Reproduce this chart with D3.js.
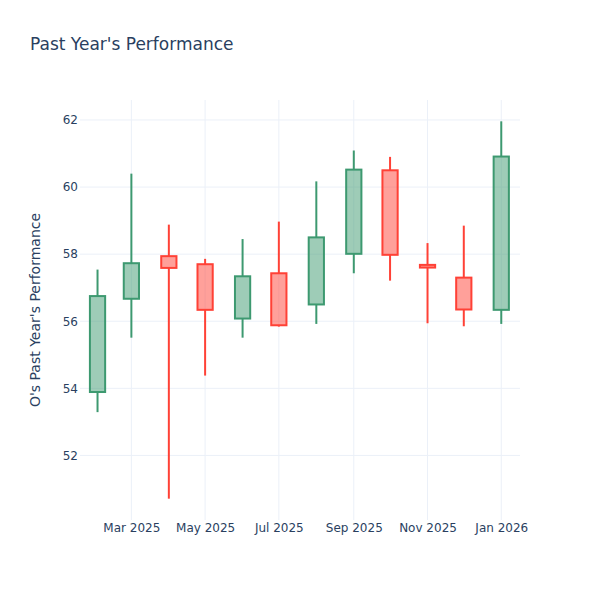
<!DOCTYPE html>
<html>
<head>
<meta charset="utf-8">
<script src="https://cdn.jsdelivr.net/npm/d3@7"></script>
<style>
  body { margin: 0; background: #fff; }
  svg text { font-family: "DejaVu Sans", sans-serif; fill: #2a3f5f; }
</style>
</head>
<body>
<svg id="chart" width="600" height="600"></svg>
<script>
// monthly candles
var dates = ["2025-02-01","2025-03-01","2025-04-01","2025-05-01","2025-06-01","2025-07-01",
             "2025-08-01","2025-09-01","2025-10-01","2025-11-01","2025-12-01","2026-01-01"];
var opens  = [53.89, 56.67, 57.94, 57.70, 56.08, 57.43, 56.50, 58.01, 60.50, 57.68, 57.30, 56.34];
var highs  = [57.54, 60.40, 58.88, 57.86, 58.45, 58.97, 60.17, 61.09, 60.90, 58.33, 58.85, 61.96];
var lows   = [53.29, 55.51, 50.71, 54.38, 55.51, 55.84, 55.92, 57.43, 57.21, 55.94, 55.85, 55.92];
var closes = [56.75, 57.73, 57.59, 56.34, 57.34, 55.88, 58.50, 60.52, 57.98, 57.60, 56.35, 60.91];
var yTicks = [52, 54, 56, 58, 60, 62];
var xTickDates = ["2025-03-01","2025-05-01","2025-07-01","2025-09-01","2025-11-01","2026-01-01"];

var parse = d3.utcParse("%Y-%m-%d");
var data = dates.map(function(d, i){
  return {date: parse(d), open: opens[i], high: highs[i], low: lows[i], close: closes[i]};
});

var svg = d3.select("#chart");
var margin = {left: 80, right: 80, top: 100, bottom: 80};
var W = 600, H = 600;

// x range padded by half a period each side, like plotly does
var day = 864e5;
var x = d3.scaleUtc()
  .domain([new Date(data[0].date.getTime() - 14.5*day), new Date(data[data.length-1].date.getTime() + 15.5*day)])
  .range([margin.left, W - margin.right]);

var lo = d3.min(lows), hi = d3.max(highs), pad = (hi - lo) * 0.0565;
var y = d3.scaleLinear()
  .domain([lo - pad, hi + pad])
  .range([H - margin.bottom, margin.top]);

// grid
svg.append("g").selectAll("line").data(yTicks).enter().append("line")
  .attr("x1", margin.left).attr("x2", W - margin.right)
  .attr("y1", function(d){ return y(d); }).attr("y2", function(d){ return y(d); })
  .attr("stroke", "#EBF0F8").attr("stroke-width", 1);
svg.append("g").selectAll("line").data(xTickDates.map(parse)).enter().append("line")
  .attr("y1", margin.top).attr("y2", H - margin.bottom)
  .attr("x1", function(d){ return x(d); }).attr("x2", function(d){ return x(d); })
  .attr("stroke", "#EBF0F8").attr("stroke-width", 1);

// axes
var yAxis = d3.axisLeft(y).tickValues(yTicks).tickSize(0).tickPadding(0);
svg.append("g").attr("transform", "translate(" + (margin.left - 2) + ",0)").call(yAxis)
  .call(function(g){ g.select(".domain").remove(); })
  .selectAll("text").attr("font-size", 12).attr("font-family", "DejaVu Sans, sans-serif").attr("fill", "#2a3f5f");

var xAxis = d3.axisBottom(x).tickValues(xTickDates.map(parse)).tickSize(0).tickPadding(0)
  .tickFormat(d3.utcFormat("%b %Y"));
svg.append("g").attr("transform", "translate(0," + (H - margin.bottom + 3) + ")").call(xAxis)
  .call(function(g){ g.select(".domain").remove(); })
  .selectAll("text").attr("font-size", 12).attr("font-family", "DejaVu Sans, sans-serif").attr("fill", "#2a3f5f");

// candles
var minGap = d3.min(data.slice(1), function(d, i){ return x(d.date) - x(data[i].date); });
var bw = minGap * 0.45;

var candle = svg.append("g").selectAll("g").data(data).enter().append("g");
candle.append("line")
  .attr("x1", function(d){ return x(d.date); }).attr("x2", function(d){ return x(d.date); })
  .attr("y1", function(d){ return y(d.high); }).attr("y2", function(d){ return y(Math.max(d.open, d.close)); })
  .attr("stroke", function(d){ return d.close >= d.open ? "#3D9970" : "#FF4136"; })
  .attr("stroke-width", 2);
candle.append("line")
  .attr("x1", function(d){ return x(d.date); }).attr("x2", function(d){ return x(d.date); })
  .attr("y1", function(d){ return y(Math.min(d.open, d.close)); }).attr("y2", function(d){ return y(d.low); })
  .attr("stroke", function(d){ return d.close >= d.open ? "#3D9970" : "#FF4136"; })
  .attr("stroke-width", 2);
candle.append("rect")
  .attr("x", function(d){ return x(d.date) - bw/2; })
  .attr("width", bw)
  .attr("y", function(d){ return y(Math.max(d.open, d.close)); })
  .attr("height", function(d){ return Math.abs(y(d.open) - y(d.close)); })
  .attr("fill", function(d){ return d.close >= d.open ? "rgba(61,153,112,0.5)" : "rgba(255,65,54,0.5)"; })
  .attr("stroke", function(d){ return d.close >= d.open ? "#3D9970" : "#FF4136"; })
  .attr("stroke-width", 2);

// titles
svg.append("text").attr("x", 30).attr("y", 50).attr("font-size", 17).text("Past Year's Performance");
svg.append("text")
  .attr("transform", "translate(40," + (margin.top + (H - margin.top - margin.bottom)/2) + ") rotate(-90)")
  .attr("text-anchor", "middle").attr("font-size", 14)
  .text("O's Past Year's Performance");
</script>
</body>
</html>
